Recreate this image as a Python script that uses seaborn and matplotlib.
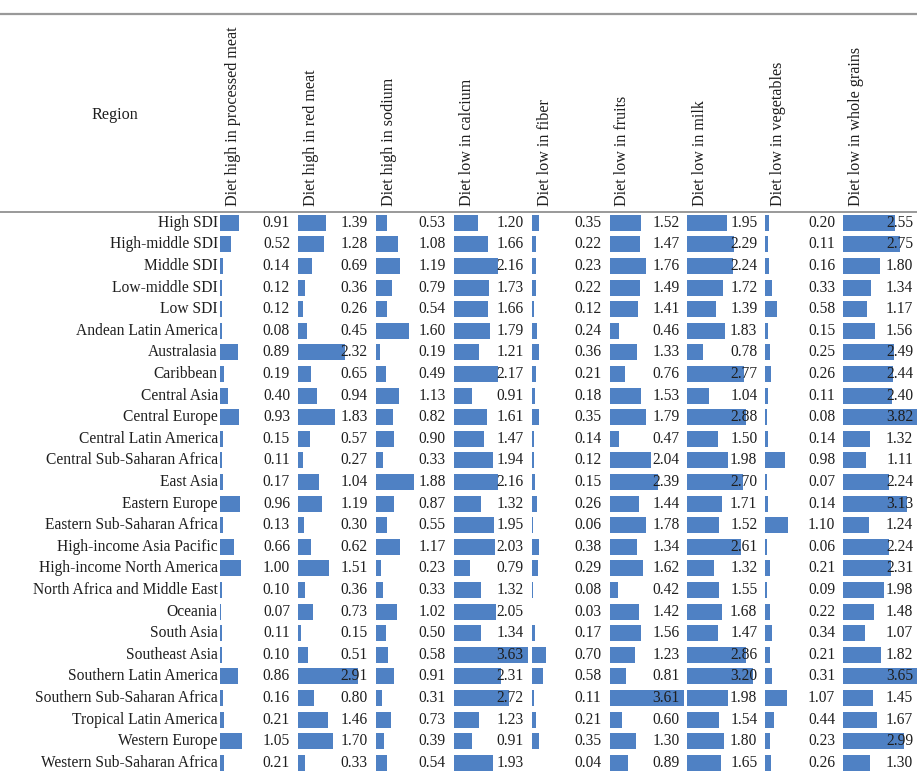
import matplotlib
matplotlib.use("Agg")
import matplotlib.pyplot as plt
import seaborn as sns
import pandas as pd

regions = ["High SDI", "High-middle SDI", "Middle SDI", "Low-middle SDI", "Low SDI",
           "Andean Latin America", "Australasia", "Caribbean", "Central Asia", "Central Europe",
           "Central Latin America", "Central Sub-Saharan Africa", "East Asia", "Eastern Europe",
           "Eastern Sub-Saharan Africa", "High-income Asia Pacific", "High-income North America",
           "North Africa and Middle East", "Oceania", "South Asia", "Southeast Asia",
           "Southern Latin America", "Southern Sub-Saharan Africa", "Tropical Latin America",
           "Western Europe", "Western Sub-Saharan Africa"]

risks = ["Diet high in processed meat", "Diet high in red meat", "Diet high in sodium",
         "Diet low in calcium", "Diet low in fiber", "Diet low in fruits", "Diet low in milk",
         "Diet low in vegetables", "Diet low in whole grains"]

processed_meat = [0.91, 0.52, 0.14, 0.12, 0.12, 0.08, 0.89, 0.19, 0.40, 0.93, 0.15, 0.11, 0.17,
                  0.96, 0.13, 0.66, 1.00, 0.10, 0.07, 0.11, 0.10, 0.86, 0.16, 0.21, 1.05, 0.21]
red_meat = [1.39, 1.28, 0.69, 0.36, 0.26, 0.45, 2.32, 0.65, 0.94, 1.83, 0.57, 0.27, 1.04,
            1.19, 0.30, 0.62, 1.51, 0.36, 0.73, 0.15, 0.51, 2.91, 0.80, 1.46, 1.70, 0.33]
sodium = [0.53, 1.08, 1.19, 0.79, 0.54, 1.60, 0.19, 0.49, 1.13, 0.82, 0.90, 0.33, 1.88,
          0.87, 0.55, 1.17, 0.23, 0.33, 1.02, 0.50, 0.58, 0.91, 0.31, 0.73, 0.39, 0.54]
calcium = [1.20, 1.66, 2.16, 1.73, 1.66, 1.79, 1.21, 2.17, 0.91, 1.61, 1.47, 1.94, 2.16,
           1.32, 1.95, 2.03, 0.79, 1.32, 2.05, 1.34, 3.63, 2.31, 2.72, 1.23, 0.91, 1.93]
fiber = [0.35, 0.22, 0.23, 0.22, 0.12, 0.24, 0.36, 0.21, 0.18, 0.35, 0.14, 0.12, 0.15,
         0.26, 0.06, 0.38, 0.29, 0.08, 0.03, 0.17, 0.70, 0.58, 0.11, 0.21, 0.35, 0.04]
fruits = [1.52, 1.47, 1.76, 1.49, 1.41, 0.46, 1.33, 0.76, 1.53, 1.79, 0.47, 2.04, 2.39,
          1.44, 1.78, 1.34, 1.62, 0.42, 1.42, 1.56, 1.23, 0.81, 3.61, 0.60, 1.30, 0.89]
milk = [1.95, 2.29, 2.24, 1.72, 1.39, 1.83, 0.78, 2.77, 1.04, 2.88, 1.50, 1.98, 2.70,
        1.71, 1.52, 2.61, 1.32, 1.55, 1.68, 1.47, 2.86, 3.20, 1.98, 1.54, 1.80, 1.65]
vegetables = [0.20, 0.11, 0.16, 0.33, 0.58, 0.15, 0.25, 0.26, 0.11, 0.08, 0.14, 0.98, 0.07,
              0.14, 1.10, 0.06, 0.21, 0.09, 0.22, 0.34, 0.21, 0.31, 1.07, 0.44, 0.23, 0.26]
whole_grains = [2.55, 2.75, 1.80, 1.34, 1.17, 1.56, 2.49, 2.44, 2.40, 3.82, 1.32, 1.11, 2.24,
                3.13, 1.24, 2.24, 2.31, 1.98, 1.48, 1.07, 1.82, 3.65, 1.45, 1.67, 2.99, 1.30]

columns = [processed_meat, red_meat, sodium, calcium, fiber, fruits, milk, vegetables, whole_grains]

W, H = 917, 773
fig = plt.figure(figsize=(W / 100, H / 100), dpi=100)
FONT = ["Liberation Serif", "DejaVu Serif"]
BAR = "#4f81c4"
TXT = "#1e1e1e"
FS = 11.2
header_bottom = 212
row_h = 21.6
n = len(regions)
body_h = n * row_h
col_x0 = 220
col_w = 77.9
xmax = 3.8


def fig_axes(x, y_top, w, h):
    return fig.add_axes([x / W, 1 - (y_top + h) / H, w / W, h / H])


# region labels
lab_ax = fig_axes(0, header_bottom, col_x0, body_h)
lab_ax.set_xlim(0, 1)
lab_ax.set_ylim(n - 0.5, -0.5)
lab_ax.axis("off")
for i, r in enumerate(regions):
    lab_ax.text(0.99, i, r, ha="right", va="center", fontsize=FS, family=FONT, color=TXT)

for j, (name, vals) in enumerate(zip(risks, columns)):
    x0 = col_x0 + j * col_w
    ax = fig_axes(x0, header_bottom, col_w, body_h)
    df = pd.DataFrame({"region": regions, "value": vals})
    sns.barplot(data=df, x="value", y="region", orient="h", color=BAR, saturation=1,
                width=0.74, ax=ax)
    ax.set_xlim(0, xmax)
    ax.set_ylim(n - 0.5, -0.5)
    ax.axis("off")
    for i, v in enumerate(vals):
        ax.text(xmax * 70 / col_w, i, f"{v:.2f}", ha="right", va="center", fontsize=FS,
                family=FONT, color=TXT, zorder=5)
    # rotated header
    fig.text((x0 + 13) / W, 1 - 206 / H, name, rotation=90, ha="center", va="bottom",
             fontsize=11.6, family=FONT, color=TXT)

fig.text(115 / W, 1 - 115 / H, "Region", ha="center", va="center", fontsize=11.6,
         family=FONT, color=TXT)

line_ax = fig.add_axes([0, 0, 1, 1])
line_ax.set_xlim(0, W)
line_ax.set_ylim(H, 0)
line_ax.axis("off")
line_ax.plot([0, W], [14, 14], color="#999999", lw=1.6)
line_ax.plot([0, W], [header_bottom, header_bottom], color="#999999", lw=1.4)

fig.savefig("out.png", dpi=100)
